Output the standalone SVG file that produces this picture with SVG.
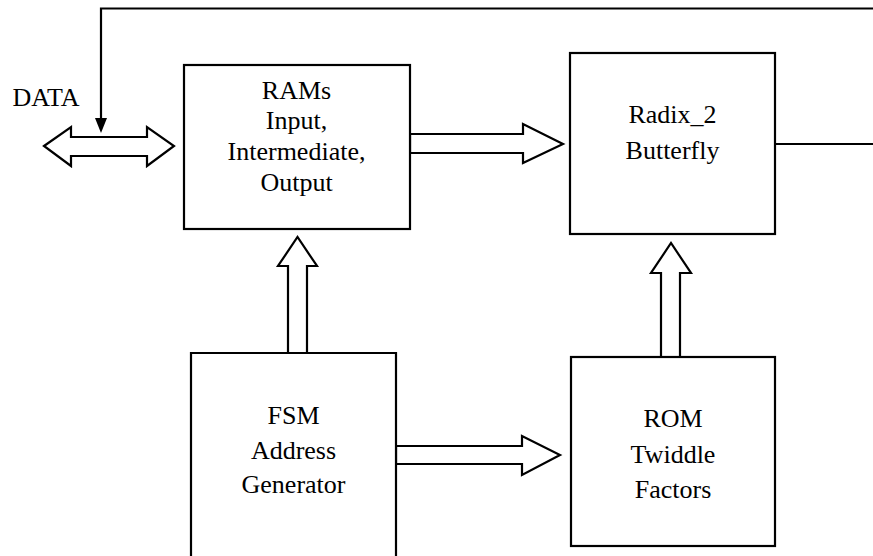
<svg xmlns="http://www.w3.org/2000/svg" width="873" height="556" viewBox="0 0 873 556">
  <style>
    .box { fill: #fff; stroke: #000; stroke-width: 2.2; }
    .bus { fill: #fff; stroke: #000; stroke-width: 2.2; stroke-linejoin: miter; }
    .wire { fill: none; stroke: #000; stroke-width: 2.2; }
    .lbl { font-family: "Liberation Serif", Tinos, "Nimbus Roman", "Noto Serif", Times, serif; font-size: 26px; fill: #000; text-anchor: middle; }
  </style>

  <rect width="873" height="556" fill="#fff"/>

  <!-- connectors -->
  <g id="connectors">
    <!-- feedback path from the butterfly output back to the data bus -->
    <path class="wire" d="M775,144 H873"/>
    <path class="wire" d="M873,8.5 H101 V118"/>
    <path d="M95,118 L107,118 L101,133 Z" fill="#000"/>
    <!-- bidirectional data bus -->
    <polygon class="bus" points="44,146 71,127 71,137 147,137 147,127 174,146 147,166 147,156 71,156 71,166"/>
    <!-- RAMs to butterfly -->
    <polygon class="bus" points="410,134 523,134 523,124 563,144 523,163 523,153 410,153"/>
    <!-- FSM to RAMs -->
    <polygon class="bus" points="288,353 288,266 278,266 297.5,237 317,266 307,266 307,353"/>
    <!-- FSM to ROM -->
    <polygon class="bus" points="396,446 522,446 522,436 560,455 522,475 522,464 396,464"/>
    <!-- ROM to butterfly -->
    <polygon class="bus" points="661,357 661,273 651,273 671,243 691,273 680,273 680,357"/>
  </g>

  <g id="data-label">
    <text class="lbl" x="46" y="106">DATA</text>
  </g>

  <g id="rams">
    <rect class="box" x="184" y="65" width="226" height="164"/>
    <text class="lbl" x="296.5" y="99">RAMs</text>
    <text class="lbl" x="296.5" y="129">Input,</text>
    <text class="lbl" x="296.5" y="160">Intermediate,</text>
    <text class="lbl" x="296.5" y="191">Output</text>
  </g>

  <g id="butterfly">
    <rect class="box" x="570" y="53" width="205" height="181"/>
    <text class="lbl" x="672.5" y="123">Radix_2</text>
    <text class="lbl" x="672.5" y="159">Butterfly</text>
  </g>

  <g id="fsm">
    <path class="box" d="M191,570 V353 H396 V570"/>
    <text class="lbl" x="293.5" y="424">FSM</text>
    <text class="lbl" x="293.5" y="459">Address</text>
    <text class="lbl" x="293.5" y="493">Generator</text>
  </g>

  <g id="rom">
    <rect class="box" x="571" y="357" width="204" height="189"/>
    <text class="lbl" x="673" y="427">ROM</text>
    <text class="lbl" x="673" y="463">Twiddle</text>
    <text class="lbl" x="673" y="498">Factors</text>
  </g>
</svg>
